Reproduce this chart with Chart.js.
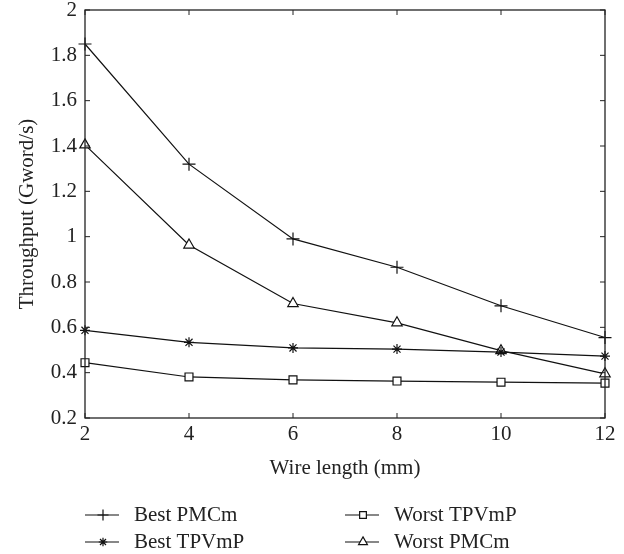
<!DOCTYPE html>
<html><head><meta charset="utf-8">
<script src="https://cdn.jsdelivr.net/npm/chart.js@4/dist/chart.umd.min.js"></script>
<style>html,body{margin:0;padding:0;background:#fff}#wrap{width:624px;height:554px;position:relative}</style>
</head><body><div id="wrap"><canvas id="c" width="624" height="554"></canvas></div>
<script>
const wireLength = [2, 4, 6, 8, 10, 12];
const bestPMCm = [1.85, 1.32, 0.99, 0.865, 0.695, 0.555];
const bestTPVmP = [0.587, 0.534, 0.509, 0.504, 0.491, 0.473];
const worstTPVmP = [0.444, 0.381, 0.368, 0.363, 0.358, 0.354];
const worstPMCm = [1.405, 0.963, 0.705, 0.62, 0.497, 0.395];
const seriesNames = ['Best PMCm', 'Best TPVmP', 'Worst TPVmP', 'Worst PMCm'];
const xTickLabels = ['2', '4', '6', '8', '10', '12'];
const yTickLabels = ['0.2', '0.4', '0.6', '0.8', '1', '1.2', '1.4', '1.6', '1.8', '2'];
const xTitle = 'Wire length (mm)';
const yTitle = 'Throughput (Gword/s)';

const FONT = "'Liberation Serif', 'DejaVu Serif', serif";
const FSIZE = 21;
const styles = [
  {pointStyle: 'cross', radius: 6.5},
  {pointStyle: 'star', radius: 5},
  {pointStyle: 'rect', radius: 5.6},
  {pointStyle: 'triangle', radius: 6}
];
const seriesData = [bestPMCm, bestTPVmP, worstTPVmP, worstPMCm];

const datasets = seriesData.map((vals, i) => ({
  label: seriesNames[i],
  data: vals.map((v, j) => ({x: wireLength[j], y: v})),
  borderColor: '#111',
  borderWidth: 1.2,
  backgroundColor: '#fff',
  pointStyle: styles[i].pointStyle,
  pointRadius: styles[i].radius,
  pointBorderColor: '#111',
  pointBackgroundColor: '#fff',
  pointBorderWidth: 1.2,
  tension: 0,
  fill: false,
  clip: false
}));

const frameAndLegend = {
  id: 'frameAndLegend',
  afterDraw(chart) {
    const ctx = chart.ctx;
    const xs = chart.scales.x, ys = chart.scales.y;
    const L = xs.left, R = xs.right, T = ys.top, B = ys.bottom;
    ctx.save();
    ctx.strokeStyle = '#222';
    ctx.lineWidth = 1.3;
    ctx.strokeRect(L, T, R - L, B - T);
    ctx.lineWidth = 1;
    const tl = 5;
    xTickLabels.forEach(t => {
      const px = xs.getPixelForValue(Number(t));
      ctx.beginPath();
      ctx.moveTo(px, B); ctx.lineTo(px, B - tl);
      ctx.moveTo(px, T); ctx.lineTo(px, T + tl);
      ctx.stroke();
    });
    yTickLabels.forEach(t => {
      const py = ys.getPixelForValue(Number(t));
      ctx.beginPath();
      ctx.moveTo(L, py); ctx.lineTo(L + tl, py);
      ctx.moveTo(R, py); ctx.lineTo(R - tl, py);
      ctx.stroke();
    });
    // legend
    const pos = [[85, 515], [85, 542], [345, 515], [345, 542]];
    ctx.font = FSIZE + 'px ' + FONT;
    ctx.textBaseline = 'middle';
    ctx.textAlign = 'left';
    seriesNames.forEach((name, i) => {
      const [x0, y0] = pos[i];
      ctx.strokeStyle = '#111';
      ctx.lineWidth = 1.2;
      ctx.beginPath();
      ctx.moveTo(x0, y0); ctx.lineTo(x0 + 34, y0);
      ctx.stroke();
      ctx.fillStyle = '#fff';
      Chart.helpers.drawPoint(ctx, {pointStyle: styles[i].pointStyle, radius: styles[i].radius * 0.85, rotation: 0, borderWidth: 1.1}, x0 + 18, y0);
      ctx.fillStyle = '#222';
      ctx.fillText(name, x0 + 49, y0);
    });
    ctx.restore();
  }
};

new Chart(document.getElementById('c'), {
  type: 'line',
  data: {datasets},
  options: {
    responsive: false,
    devicePixelRatio: 1,
    animation: false,
    layout: {padding: {left: 0, right: 19, top: 0, bottom: 0}},
    plugins: {legend: {display: false}, tooltip: {enabled: false}},
    scales: {
      x: {
        type: 'linear', min: 2, max: 12,
        afterBuildTicks: s => { s.ticks = xTickLabels.map(v => ({value: Number(v)})); },
        afterFit: s => { s.height = 136; s.paddingLeft = 0; s.paddingRight = 0; },
        grid: {display: false, drawTicks: false},
        border: {display: false},
        ticks: {color: '#222', font: {family: FONT, size: FSIZE}, padding: 4, maxRotation: 0,
          callback: (v, i) => xTickLabels[i]},
        title: {display: true, text: xTitle, color: '#222', font: {family: FONT, size: FSIZE}, padding: {top: 0, bottom: 73}}
      },
      y: {
        type: 'linear', min: 0.2, max: 2,
        afterBuildTicks: s => { s.ticks = yTickLabels.map(v => ({value: Number(v)})); },
        afterFit: s => { s.width = 85; s.paddingTop = 10; s.paddingBottom = 0; },
        grid: {display: false, drawTicks: false},
        border: {display: false},
        ticks: {color: '#222', font: {family: FONT, size: FSIZE}, padding: 8,
          callback: (v, i) => yTickLabels[i]},
        title: {display: true, text: yTitle, color: '#222', font: {family: FONT, size: FSIZE}, padding: {top: 15, bottom: 0}}
      }
    }
  },
  plugins: [frameAndLegend]
});
</script></body></html>
